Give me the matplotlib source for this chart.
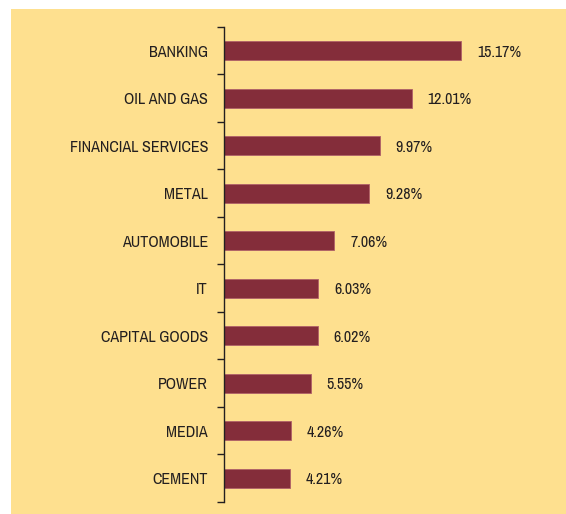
import matplotlib
matplotlib.use("Agg")
import matplotlib.pyplot as plt
from matplotlib.patches import Rectangle

# sector weights (%)
sectors = ["BANKING", "OIL AND GAS", "FINANCIAL SERVICES", "METAL", "AUTOMOBILE",
           "IT", "CAPITAL GOODS", "POWER", "MEDIA", "CEMENT"]
weights = [15.17, 12.01, 9.97, 9.28, 7.06, 6.03, 6.02, 5.55, 4.26, 4.21]

plt.rcParams["font.family"] = ["Archivo Narrow", "Roboto Condensed", "Liberation Sans", "DejaVu Sans"]

bg = "#FEE08F"
bar_col = "#842D3A"
txt = "#231F20"

fig = plt.figure(figsize=(5.66, 5.14), dpi=100)
fig.patches.append(Rectangle((11 / 566, 0), 1 - 11 / 566, 1 - 9 / 514,
                             transform=fig.transFigure, facecolor=bg,
                             edgecolor="none", zorder=-10))

ax = fig.add_axes([224 / 566, 1 - 502 / 514, 313 / 566, 475 / 514])
ax.set_facecolor("none")
ax.set_zorder(5)

ypos = list(range(len(sectors)))
ax.barh(ypos, weights, height=0.4, color=bar_col, edgecolor="#B06068", linewidth=0.6)

for y, w in zip(ypos, weights):
    ax.text(w + 1.0, y, f"{w:.2f}%", va="center_baseline", ha="left",
            fontsize=11.5, color=txt)

ax.set_xlim(0, 20)
ax.set_ylim(len(sectors) - 0.5, -0.5)
ax.set_yticks(ypos)
ax.set_yticklabels(sectors, fontsize=11.6, color=txt, va="center_baseline")
ax.tick_params(axis="y", which="major", length=0, pad=11.5)
ax.set_yticks([i - 0.5 for i in range(len(sectors) + 1)], minor=True)
ax.tick_params(axis="y", which="minor", length=5, width=1, color=txt, direction="out")
ax.set_xticks([])
for s in ["top", "right", "bottom"]:
    ax.spines[s].set_visible(False)
ax.spines["left"].set_color(txt)
ax.spines["left"].set_linewidth(1)

fig.savefig("out.png", dpi=100)
